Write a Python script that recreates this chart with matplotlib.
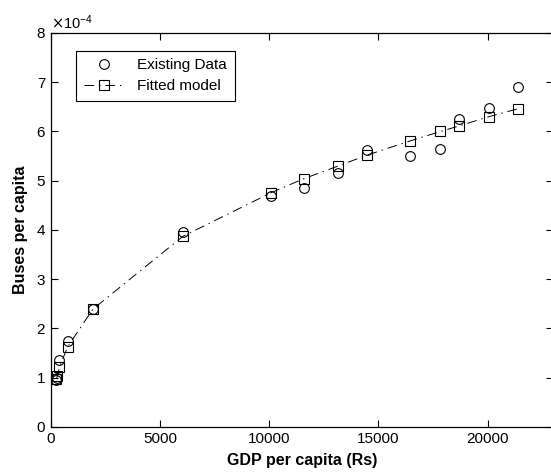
import matplotlib.pyplot as plt
from matplotlib.ticker import ScalarFormatter

plt.rcParams['font.family'] = ['Liberation Sans', 'DejaVu Sans']

# GDP per capita (Rs)
gdp = [250, 290, 381, 766, 1911, 6041, 10100, 11575, 13165,
       14480, 16468, 17844, 18683, 20060, 21390]
# observed buses per capita
buses_data = [0.95e-4, 0.99e-4, 1.35e-4, 1.75e-4, 2.40e-4, 3.95e-4, 4.68e-4, 4.85e-4,
              5.15e-4, 5.62e-4, 5.51e-4, 5.64e-4, 6.25e-4, 6.47e-4, 6.90e-4]
# fitted model
buses_fit = [0.98e-4, 1.03e-4, 1.21e-4, 1.63e-4, 2.39e-4, 3.87e-4, 4.76e-4, 5.04e-4,
             5.30e-4, 5.52e-4, 5.81e-4, 6.00e-4, 6.11e-4, 6.30e-4, 6.46e-4]

x_ticks = [0, 5000, 10000, 15000, 20000]
y_ticks = [i * 1e-4 for i in range(9)]

fig = plt.figure(figsize=(5.51, 4.75), dpi=100)
ax = fig.add_axes([0.0926, 0.1011, 0.911, 0.8295])

ax.plot(gdp, buses_data, 'o', mfc='none', mec='black', ms=7, mew=0.8,
        label='Existing Data', zorder=3)
ax.plot(gdp, buses_fit, color='black', lw=0.7, linestyle=(0, (10, 5, 1.5, 5)),
        marker='s', mfc='none', mec='black', ms=7, mew=0.8,
        label='Fitted model', zorder=2)

ax.set_xlim(0, 23000)
ax.set_ylim(0, 8e-4)
ax.set_xticks(x_ticks)
ax.set_yticks(y_ticks)

fmt = ScalarFormatter(useMathText=True)
fmt.set_powerlimits((0, 0))
ax.yaxis.set_major_formatter(fmt)
ax.yaxis.get_offset_text().set_fontsize(10.5)

ax.tick_params(direction='in', top=True, right=True, labelsize=11,
               length=5, width=0.8, colors='black')
for s in ax.spines.values():
    s.set_linewidth(0.9)

ax.set_xlabel('GDP per capita (Rs)', fontsize=11.5, fontweight='bold', labelpad=5)
ax.set_ylabel('Buses per capita', fontsize=11.5, fontweight='bold', labelpad=6)

leg = ax.legend(loc='upper left', bbox_to_anchor=(0.05, 0.955), fontsize=11,
                fancybox=False, framealpha=1, edgecolor='black',
                handlelength=2.6, borderpad=0.5, labelspacing=0.45,
                borderaxespad=0, handletextpad=0.9)
leg.get_frame().set_linewidth(0.8)

fig.savefig('out.png', dpi=100, facecolor='white')
